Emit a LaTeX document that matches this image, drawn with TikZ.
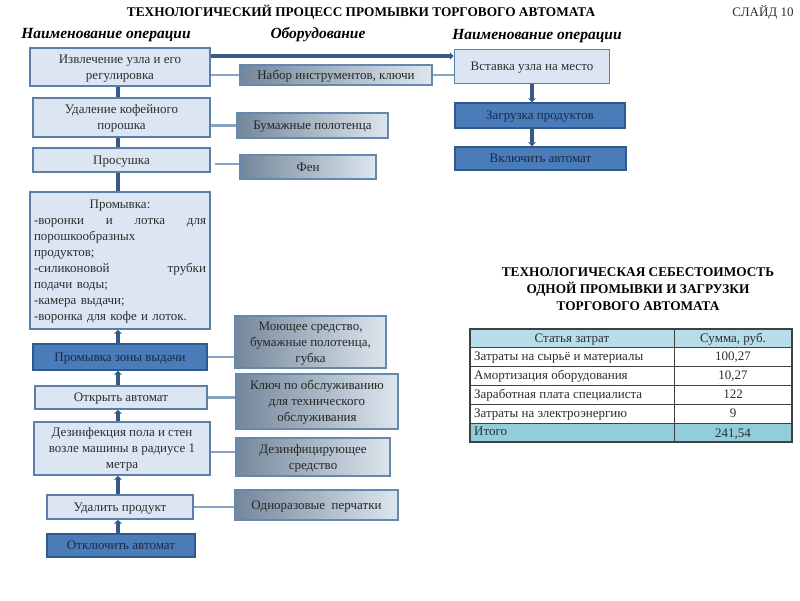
\documentclass[tikz,border=0pt]{standalone}
\usepackage{fontspec}
\setmainfont{Liberation Serif}
\usetikzlibrary{arrows.meta,calc}
\definecolor{lfill}{HTML}{DCE6F2}
\definecolor{lborder}{HTML}{5B7FA8}
\definecolor{dfill}{HTML}{4A7CBA}
\definecolor{dborder}{HTML}{2F5A8E}
\definecolor{dtext}{HTML}{1A2A45}
\definecolor{mleft}{HTML}{74879B}
\definecolor{mright}{HTML}{DDE6EE}
\definecolor{mborder}{HTML}{6488AE}
\definecolor{spinec}{HTML}{365A85}
\definecolor{thinc}{HTML}{89A4C2}
\definecolor{thead}{HTML}{B7DEE8}
\definecolor{ttotal}{HTML}{92CDDC}
\definecolor{tline}{HTML}{404040}
\definecolor{txt}{HTML}{2E2E2E}
\begin{document}
\begin{tikzpicture}[x=1pt,y=-1pt,
  font=\fontsize{13}{16}\selectfont,
  fixtext/.style={text height=11.5pt, text depth=3pt},
  twolines/.style={text height=27.5pt, text depth=3pt},
  threelines/.style={text height=43.5pt, text depth=3pt},
  eightlines/.style={text height=11.5pt, text depth=115pt},
  box/.style={draw, line width=1.8pt, inner xsep=2pt, inner ysep=0pt, align=center, text=txt, fixtext},
  lbox/.style={box, fill=lfill, draw=lborder},
  dbox/.style={box, fill=dfill, draw=dborder, text=dtext},
  mbox/.style={box, left color=mleft, right color=mright, draw=mborder, text=black!85},
  spineline/.style={draw=spinec, line width=3.5pt},
  uparrow/.style={spineline, -{Stealth[length=4pt,width=8pt]}},
  thinline/.style={draw=thinc, line width=2.2pt},
  hdr/.style={font=\bfseries\itshape\fontsize{15.5}{18}\selectfont},
  ttl/.style={font=\bfseries\fontsize{13.3}{17}\selectfont, align=center},
  cell/.style={inner sep=0pt, text=txt, fixtext},
  tgrid/.style={draw=tline, line width=0.8pt}
]
\useasboundingbox[fill=white] (0,0) rectangle (800,600);

% titles
\node[ttl] (title) at (361,12) {ТЕХНОЛОГИЧЕСКИЙ ПРОЦЕСС ПРОМЫВКИ ТОРГОВОГО АВТОМАТА};
\node[font=\fontsize{13}{14}\selectfont, text=txt] (slide) at (763,12) {СЛАЙД 10};
\node[hdr] (h1) at (106,35) {Наименование операции};
\node[hdr] (h2) at (318,35) {Оборудование};
\node[hdr] (h3) at (537,36) {Наименование операции};

% left column
\node[lbox, twolines, minimum width=180, minimum height=38] (b1) at (120,67) {Извлечение узла и его\\регулировка};
\node[lbox, twolines, minimum width=177, minimum height=39] (b2) at (121.5,117.5) {Удаление кофейного\\порошка};
\node[lbox, minimum width=177, minimum height=24] (b3) at (121.5,160) {Просушка};
\node[lbox, eightlines, minimum width=180, minimum height=137, text width=172, inner xsep=4pt, align=left] (b4) at (120,260.5)
  {\makebox[172pt]{Промывка:}\\
   \makebox[172pt][s]{-воронки\hfill и\hfill лотка\hfill для}\\
   порошкообразных\\
   продуктов;\\
   \makebox[172pt][s]{-силиконовой\hfill трубки}\\
   подачи воды;\\
   -камера выдачи;\\
   -воронка для кофе и лоток.};
\node[dbox, minimum width=174, minimum height=26] (b5) at (120,357) {Промывка зоны выдачи};
\node[lbox, minimum width=172, minimum height=23] (b6) at (121,397.5) {Открыть автомат};
\node[lbox, threelines, minimum width=176, minimum height=53] (b7) at (122,448.5) {Дезинфекция пола и стен\\возле машины в радиусе 1\\метра};
\node[lbox, minimum width=146, minimum height=24] (b8) at (120,507) {Удалить продукт};
\node[dbox, minimum width=148, minimum height=23] (b9) at (121,545.5) {Отключить автомат};

% middle column
\node[mbox, minimum width=192, minimum height=20] (m1) at (336,75) {Набор инструментов, ключи};
\node[mbox, minimum width=151, minimum height=25] (m2) at (312.5,125.5) {Бумажные полотенца};
\node[mbox, minimum width=136, minimum height=24] (m3) at (308,167) {Фен};
\node[mbox, threelines, minimum width=151, minimum height=52] (m4) at (310.5,342) {Моющее средство,\\бумажные полотенца,\\губка};
\node[mbox, threelines, minimum width=162, minimum height=55] (m5) at (317,401.5) {Ключ по обслуживанию\\для технического\\обслуживания};
\node[mbox, twolines, minimum width=154, minimum height=38] (m6) at (313,457) {Дезинфицирующее\\средство};
\node[mbox, minimum width=163, minimum height=30] (m7) at (316.5,505) {Одноразовые\ \ перчатки};

% right column
\node[lbox, minimum width=155, minimum height=34] (r1) at (532,66.5) {Вставка узла на место};
\node[dbox, minimum width=170, minimum height=25] (r2) at (540,115.5) {Загрузка продуктов};
\node[dbox, minimum width=171, minimum height=23] (r3) at (540.5,158.5) {Включить автомат};

% spine connectors
\coordinate (sp) at (118,0);
\coordinate (rs) at (532,0);
\draw[spineline] (b1.south -| sp) -- (b2.north -| sp);
\draw[spineline] (b2.south -| sp) -- (b3.north -| sp);
\draw[spineline] (b3.south -| sp) -- (b4.north -| sp);
\draw[uparrow] (b5.north -| sp) -- (b4.south -| sp);
\draw[uparrow] (b6.north -| sp) -- (b5.south -| sp);
\draw[uparrow] (b7.north -| sp) -- (b6.south -| sp);
\draw[uparrow] (b8.north -| sp) -- (b7.south -| sp);
\draw[uparrow] (b9.north -| sp) -- (b8.south -| sp);
\draw[uparrow] (r1.south -| rs) -- (r2.north -| rs);
\draw[uparrow] (r2.south -| rs) -- (r3.north -| rs);
\draw[uparrow] ([yshift=11pt]b1.east) -- ([yshift=11pt]b1.east -| r1.west);

% thin connectors
\draw[thinline] (b1.east |- m1.west) -- (m1.west);
\draw[thinline] (m1.east) -- (m1.east -| r1.west);
\draw[thinline] (b2.east |- m2.west) -- (m2.west);
\draw[thinline] ([xshift=4pt,yshift=-4pt]b3.east) -- ([yshift=-4pt]b3.east -| m3.west);
\draw[thinline] (b5.east) -- (b5.east -| m4.west);
\draw[thinline] (b6.east) -- (b6.east -| m5.west);
\draw[thinline] ([yshift=-3.5pt]b7.east) -- ([yshift=-3.5pt]b7.east -| m6.west);
\draw[thinline] (b8.east) -- (b8.east -| m7.west);

% cost table
\node[ttl] (ttitle) at (638,289)
  {ТЕХНОЛОГИЧЕСКАЯ СЕБЕСТОИМОСТЬ\\ОДНОЙ ПРОМЫВКИ И ЗАГРУЗКИ\\ТОРГОВОГО АВТОМАТА};
\fill[thead] (470,329) rectangle (792,347);
\fill[ttotal] (470,423) rectangle (792,442);
\draw[tgrid] (470,347) -- (792,347);
\draw[tgrid] (470,366) -- (792,366);
\draw[tgrid] (470,385) -- (792,385);
\draw[tgrid] (470,404) -- (792,404);
\draw[tgrid] (470,423) -- (792,423);
\draw[tgrid] (674,329) -- (674,442);
\draw[draw=tline, line width=1.2pt] (470,329) rectangle (792,442);

\node[cell] (c0a) at (572,338) {Статья затрат};
\node[cell] (c0b) at (733,338) {Сумма, руб.};
\node[cell, anchor=west] (c1a) at (474,356.5) {Затраты на сырьё и материалы};
\node[cell] (c1b) at (733,356.5) {100,27};
\node[cell, anchor=west] (c2a) at (474,375.5) {Амортизация оборудования};
\node[cell] (c2b) at (733,375.5) {10,27};
\node[cell, anchor=west] (c3a) at (474,394.5) {Заработная плата специалиста};
\node[cell] (c3b) at (733,394.5) {122};
\node[cell, anchor=west] (c4a) at (474,413.5) {Затраты на электроэнергию};
\node[cell] (c4b) at (733,413.5) {9};
\node[cell, anchor=west] (c5a) at (474,431.5) {Итого};
\node[cell] (c5b) at (733,433.5) {241,54};
\end{tikzpicture}
\end{document}
